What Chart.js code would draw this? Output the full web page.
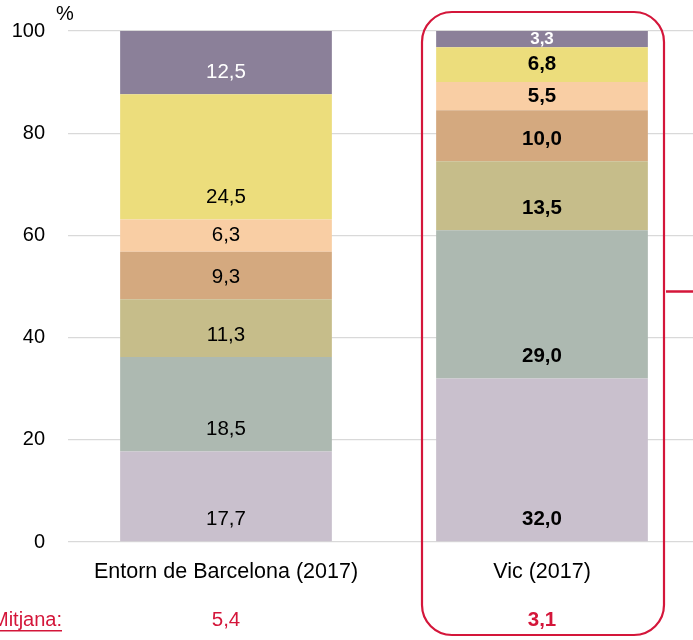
<!DOCTYPE html>
<html>
<head>
<meta charset="utf-8">
<script src="https://cdn.jsdelivr.net/npm/chart.js@4/dist/chart.umd.min.js"></script>
<style>
    html, body { margin: 0; padding: 0; overflow: hidden; background: #fff; }
    #wrap { width: 700px; height: 640px; }
</style>
</head>
<body>
<div id="wrap"><canvas id="chart"></canvas></div>
<script>
// categories and stacked values (bottom to top)
var categories = ['Entorn de Barcelona (2017)', 'Vic (2017)'];
var seg1 = [17.7, 32.0];
var seg2 = [18.5, 29.0];
var seg3 = [11.3, 13.5];
var seg4 = [9.3, 10.0];
var seg5 = [6.3, 5.5];
var seg6 = [24.5, 6.8];
var seg7 = [12.5, 3.3];
var mitjana = [5.4, 3.1];
var yTicks = [0, 20, 40, 60, 80, 100];

var colors = ['#c9c0cd', '#adb9b1', '#c6bd8a', '#d4a97f', '#f9cea4', '#ecdd7c', '#8b8099'];
var red = '#d4163a';
var font = '"Liberation Sans", Arial, sans-serif';

function fmt(v) {
    return v.toFixed(1).replace('.', ',');
}

var series = [seg1, seg2, seg3, seg4, seg5, seg6, seg7];
var datasets = series.map(function (vals, i) {
    return {
        label: 'S' + (i + 1),
        data: vals,
        backgroundColor: colors[i],
        borderWidth: 0,
        barPercentage: 0.67,
        categoryPercentage: 1
    };
});

var labelPlugin = {
    id: 'segLabels',
    afterDatasetsDraw: function (chart) {
        var ctx = chart.ctx;
        ctx.save();
        ctx.textAlign = 'center';
        ctx.textBaseline = 'middle';
        chart.data.datasets.forEach(function (ds, di) {
            var meta = chart.getDatasetMeta(di);
            var top = di === chart.data.datasets.length - 1;
            meta.data.forEach(function (el, i) {
                var bold = i === 1;
                var size = (top && bold) ? 17 : 20.5;
                ctx.font = (bold ? 'bold ' : '') + size + 'px ' + font;
                ctx.fillStyle = top ? '#ffffff' : '#000000';
                // labels sit near the segment base, centred when the segment is short
                var y = Math.max((el.y + el.base) / 2, el.base - 22);
                ctx.fillText(fmt(ds.data[i]), el.x, y);
            });
        });
        ctx.restore();
    }
};

var extrasPlugin = {
    id: 'extras',
    afterDraw: function (chart) {
        var ctx = chart.ctx;
        var xs = chart.scales.x, ys = chart.scales.y;
        ctx.save();
        // % unit
        ctx.font = '20px ' + font;
        ctx.fillStyle = '#000';
        ctx.textAlign = 'center';
        ctx.textBaseline = 'middle';
        ctx.fillText('%', chart.chartArea.left - 3, 14);

        // Mitjana row
        var rowY = 620;
        ctx.fillStyle = red;
        ctx.textAlign = 'right';
        ctx.font = '20px ' + font;
        ctx.fillText('Mitjana:', 62, rowY);
        var w = ctx.measureText('Mitjana:').width;
        ctx.fillRect(62 - w, rowY + 10, w, 1.5);
        ctx.textAlign = 'center';
        mitjana.forEach(function (v, i) {
            ctx.font = (i === 1 ? 'bold ' : '') + '20.5px ' + font;
            ctx.fillText(fmt(v), xs.getPixelForValue(i), rowY);
        });

        // highlight box round Vic
        var cx = xs.getPixelForValue(1);
        var left = cx - 120, right = cx + 122, top = ys.getPixelForValue(100) - 19, bottom = 635;
        ctx.strokeStyle = red;
        ctx.lineWidth = 2.2;
        ctx.beginPath();
        ctx.roundRect(left, top, right - left, bottom - top, 30);
        ctx.stroke();
        // connector line
        var ly = ys.getPixelForValue(49);
        ctx.lineWidth = 2.5;
        ctx.beginPath();
        ctx.moveTo(right + 2, ly);
        ctx.lineTo(chart.width, ly);
        ctx.stroke();
        ctx.restore();
    }
};

new Chart(document.getElementById('chart').getContext('2d'), {
    type: 'bar',
    data: { labels: categories, datasets: datasets },
    options: {
        responsive: true,
        maintainAspectRatio: false,
        animation: false,
        layout: { padding: { top: 31, right: 0, left: 0, bottom: 0 } },
        plugins: {
            legend: { display: false },
            tooltip: { enabled: false }
        },
        scales: {
            x: {
                stacked: true,
                grid: { display: false, drawTicks: false },
                border: { display: false },
                ticks: { color: '#000', font: { family: font, size: 21.5 }, padding: 17 },
                afterFit: function (s) { s.height = 98; }
            },
            y: {
                stacked: true,
                min: 0,
                max: 100,
                afterBuildTicks: function (s) {
                    s.ticks = yTicks.map(function (v) { return { value: v }; });
                },
                grid: { color: '#d9d9d9', lineWidth: 1.3, drawTicks: true, tickLength: 16, tickColor: 'rgba(0,0,0,0)' },
                border: { display: false },
                ticks: { color: '#000', font: { family: font, size: 20 }, padding: 7 },
                afterFit: function (s) { s.width = 68; }
            }
        }
    },
    plugins: [labelPlugin, extrasPlugin]
});
</script>
</body>
</html>
